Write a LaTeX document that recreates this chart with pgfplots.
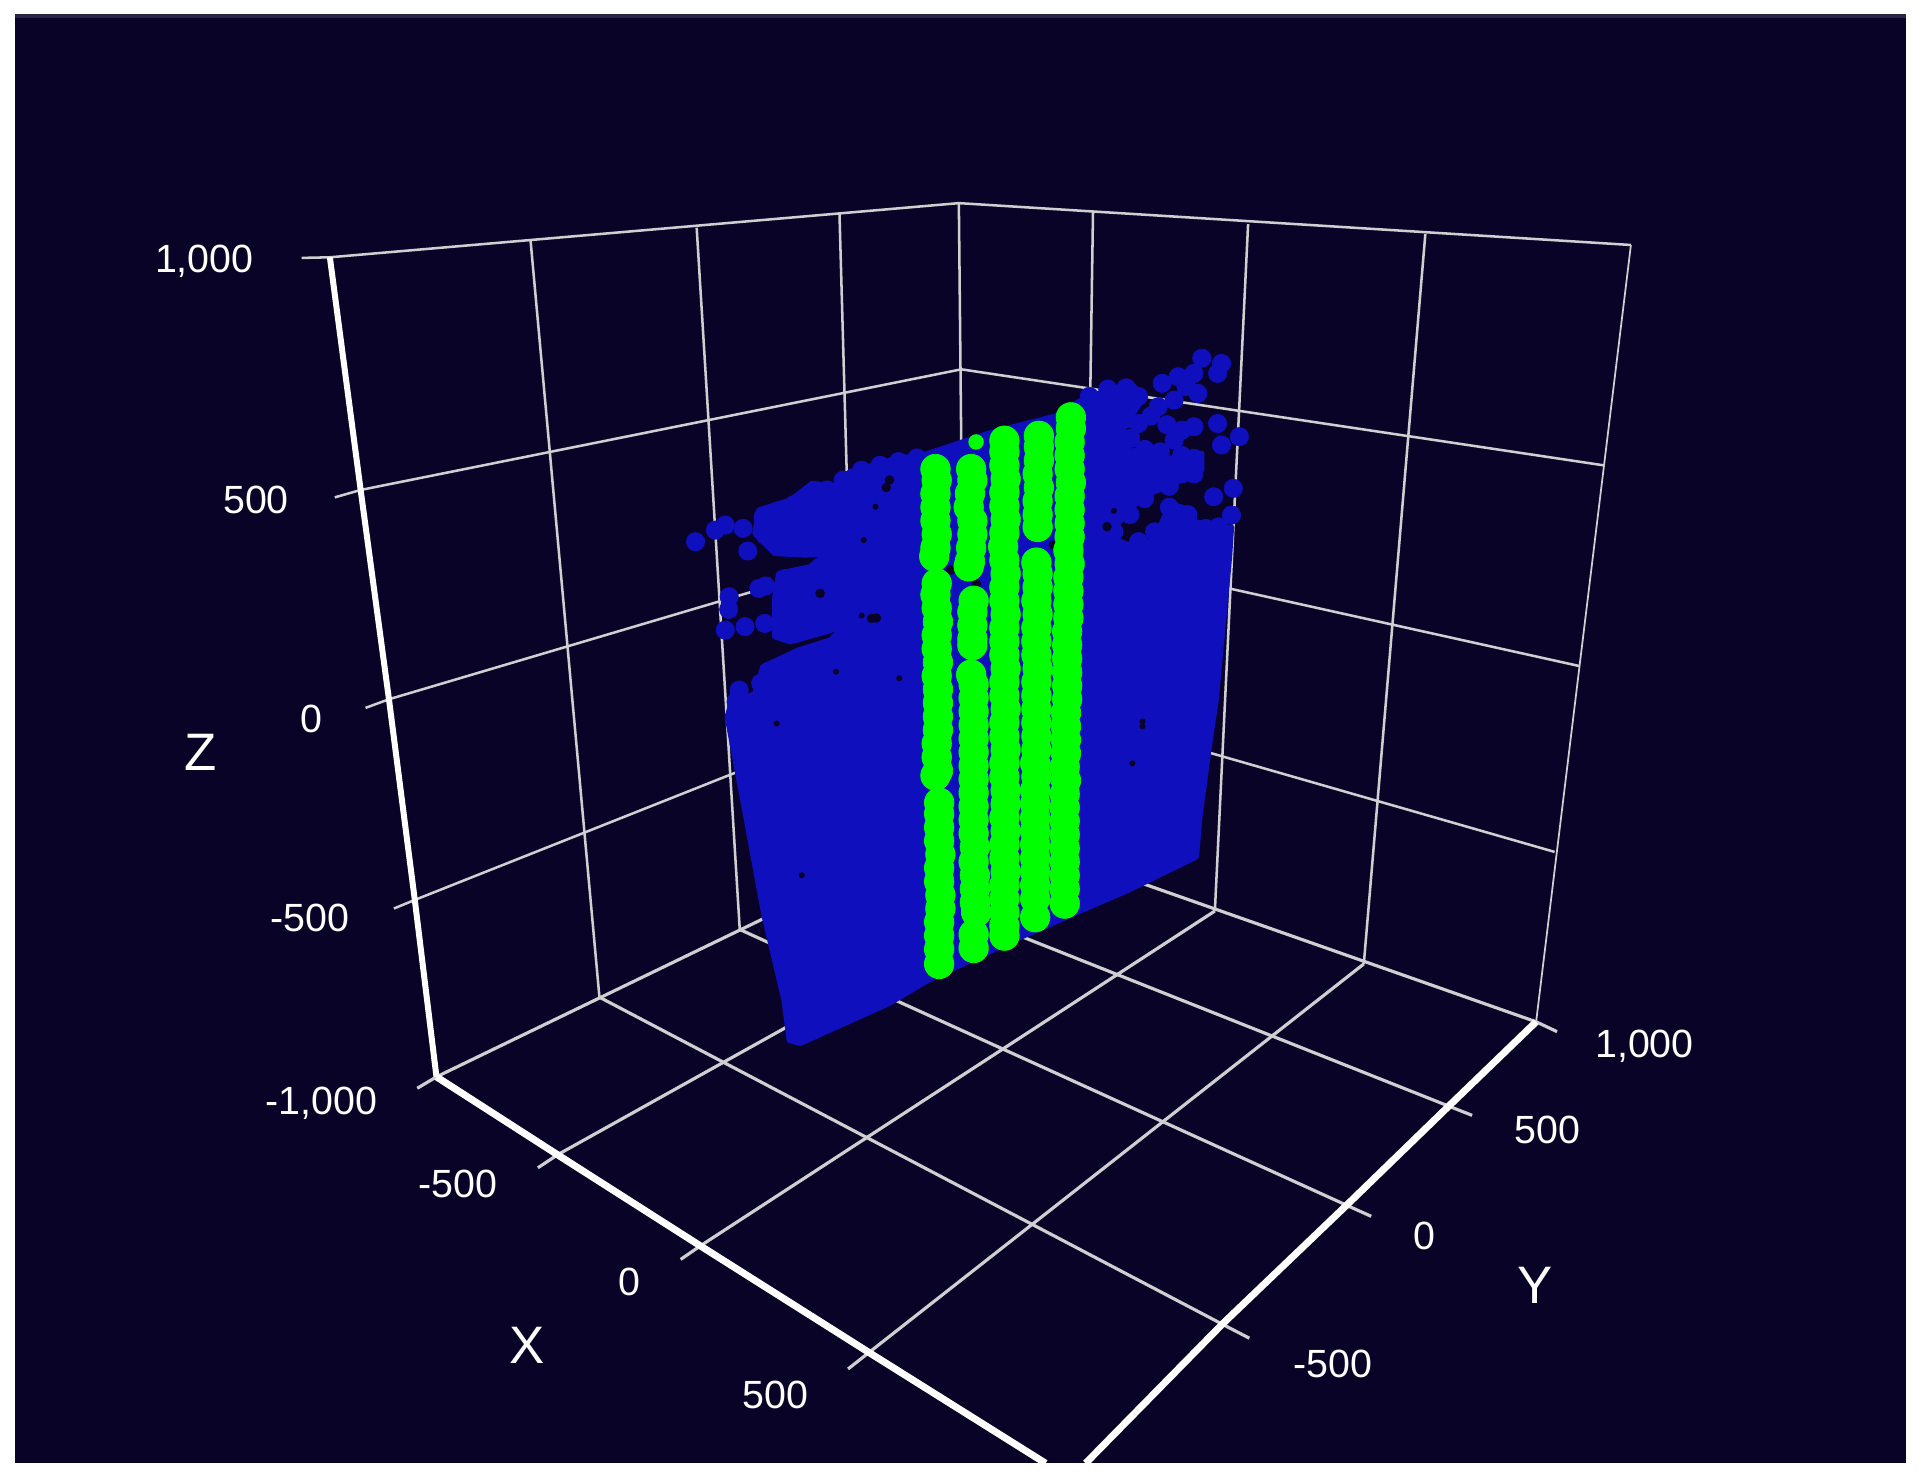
\documentclass[border=0pt]{standalone}
\usepackage{pgfplots}
\pgfplotsset{compat=1.18}
\usepackage{fontspec}
\setmainfont{Liberation Sans}
\definecolor{bg}{HTML}{090427}
\definecolor{bgtop}{HTML}{2A2548}
\definecolor{blu}{HTML}{0F0FBE}
\definecolor{grn}{HTML}{00FF00}
\definecolor{gridc}{HTML}{CFCFD2}
\tikzset{
  gl/.style={gridc, line width=0.72pt},
  gf/.style={gridc, line width=0.9pt},
  ax/.style={white, line width=2pt},
  tl/.style={text=white, font=\fontsize{11.2}{13}\selectfont, anchor=center, inner sep=0pt},
  al/.style={text=white, font=\fontsize{15}{17}\selectfont, anchor=center, inner sep=0pt},
}
\pgfplotsset{
  gcol/.style={only marks, color=grn, mark=*, mark size=4.2pt, mark options={fill=grn, draw=grn, line width=0.2pt}},
  bcol/.style={only marks, color=blu, mark=*, mark size=2.6pt, mark options={fill=blu, draw=blu, line width=0.2pt}},
}
\begin{document}
\begin{tikzpicture}
% The reference is a perspective 3D view, which pgfplots cannot project;
% all coordinates below are the positions (1568x1203 frame).
\begin{axis}[
  scale only axis, width=19.3cm, height=14.81cm,
  xmin=0, xmax=1568, ymin=0, ymax=1203, y dir=reverse,
  hide axis, clip=true, no markers,
]
% page and panel
\addplot[fill=white, draw=none] coordinates {(0,0)(1568,0)(1568,1203)(0,1203)} --cycle;
\addplot[fill=bg, draw=none] coordinates {(12.2,11.4)(1548.5,11.4)(1548.5,1188.6)(12.2,1188.6)} --cycle;
\addplot[fill=bgtop, draw=none] coordinates {(12.2,11.4)(1548.5,11.4)(1548.5,14.6)(12.2,14.6)} --cycle;
% left wall verticals
\addplot[gl] coordinates {(431,195)(487,810)};
\addplot[gl] coordinates {(566,185)(601,755)};
\addplot[gl] coordinates {(682,173)(697,708)};
\addplot[gl] coordinates {(779,165)(784,667)};
% right wall verticals
\addplot[gl] coordinates {(888,172)(880,700)};
\addplot[gl] coordinates {(1014,182)(987,740)};
\addplot[gl] coordinates {(1158,190)(1108,783)};
\addplot[gridc, line width=0.5pt] coordinates {(1325,199)(1248,830)};
% horizontals
\addplot[gl] coordinates {(245,209.5)(268,209)(779,165)(1325,199)};
\addplot[gl] coordinates {(272,404)(293,398)(781,300)(1303,378)};
\addplot[gl] coordinates {(297,575)(316,568)(782,430)(1283,541)};
\addplot[gl] coordinates {(320,738)(337,731)(783,554)(1263,692)};
% floor
\addplot[gf] coordinates {(339,884)(354.6,874.7)(784,667)(1248,830)(1265,838)};
\addplot[gf] coordinates {(1015,1087)(993,1075.6)(487,810)};
\addplot[gf] coordinates {(1114,988)(1094,979)(601,755)};
\addplot[gf] coordinates {(1196,906)(1177,898.5)(697,708)};
\addplot[gf] coordinates {(437,948.6)(453,938)(880,700)};
\addplot[gf] coordinates {(553,1023)(569,1012)(987,740)};
\addplot[gf] coordinates {(689,1112)(706,1098.6)(1108,783)};
% axis edges
\addplot[white, line width=1.7pt] coordinates {(268,209)(293,398)(316,568)(337,731)(354.6,874.7)};
\addplot[ax] coordinates {(354.6,874.7)(453,938)(569,1012)(706,1098.6)(849.5,1188.6)};
\addplot[ax] coordinates {(882,1188.6)(993,1075.6)(1094,979)(1177,898.5)(1248,830)};
% blue body
\addplot[fill=blu, draw=blu, line width=1.5pt, line join=round] coordinates {
(749.9,369.6)(729,372.3)(709.7,377.8)(690.4,383.2)(677.6,395.3)(659.9,392.6)(642.2,406.2)(616.5,414.3)
(613.3,433.3)(629.4,449.5)(655.1,450.9)(671.1,449.5)(658.3,460.3)(632.6,465.8)(629.4,487.4)(629.4,517.2)
(642.2,521.3)(671.1,513.2)(687.2,507.7)(674.4,520)(648.7,528)(619.7,541.6)(613.3,563.3)(594,571.4)
(590.8,582.2)(603.5,650)(621,744.7)(637,812.4)(641.2,845)(650,847.6)
(722.4,815)(754.4,796)(829.8,761)(873,742)(916.8,723)(972,696)
(974.8,663.5)(982,609.3)(988,568.7)(998.9,452.2)(1000.5,427.8)
(992.4,430.6)(974.8,433.3)(966.8,414.3)(950.7,408.9)(937.8,438.7)(921.8,444.1)(899.3,436)
(915.3,417)(928.2,403.5)(947.5,395.4)(976.4,381.8)(976.4,368.3)(957.1,371)(937.8,376.4)(934.6,362.9)
(913.7,368.3)(908.9,354.7)(918.6,338.5)(929.8,322.2)(918.6,311.4)(899.3,317)(878.4,325)
(857.5,338)(830,345)(803,352)(767,364)} --cycle;
% blue scattered points
\addplot[bcol] coordinates {
(565.1,440)(581.2,430.6)(589.2,426.5)(603.7,429.2)(607.5,447.6)(616.5,478)(622,476)(592.4,484.7)(592,495)
(589.2,511.8)(605.3,509)(621.3,506.4)(600.5,560.5)(598,570)
(976.4,291)(992.4,295.2)(989.2,303.3)(944.2,311.4)(957.1,306)(970,303.3)(973.2,319.5)(941,330.4)(953.9,325)(963.5,314)
(925,344)(918.6,356)(989.2,344)(1006.9,354.7)(992.4,361.5)(970,372.3)(942.6,367)(986,403.5)(1002,396.7)(1000.5,418.4)
(979.6,429.2)(957.1,417)(960.3,349.3)(970,346.6)(953.9,357.4)(935,338)(948,345)(925,375)(960,385)
(620,420)(632,415)(645,410)(660,400)(672,398)(685,390)(700,382)(715,378)(730,375)(745,372)(622,435)(630,441)
(638,470)(635,485)(635,500)(625,545)(618,555)(606,575)(600,585)
(885,322)(900,316)(915,315)(925,322)(915,340)(908,355)(915,370)(930,365)(945,375)(960,370)(970,385)(950,395)(930,405)(918,418)(905,432)(925,440)(938,432)(950,412)(965,418)(975,430)(990,428)
(652,838)(648,826)(645,814)(992,450)(990,480)(987,510)(984,540)(981,570)};
% gaps in the cloud
\addplot[only marks, color=bg, mark=*, mark size=1.3pt, mark options={fill=bg, draw=bg, line width=0.1pt}] coordinates {
(666.3,482)(708.1,502.3)(712,502)(722.6,390)(720,396)(899.3,427.8)(772.4,463)(793.2,474)(855.9,442.7)};
\addplot[only marks, color=bg, mark=*, mark size=0.8pt, mark options={fill=bg, draw=bg, line width=0.1pt}] coordinates {
(711.3,411.6)(701.7,438.7)(679.2,545.6)(730.6,551)(928.2,590)(928.2,586)(631,587.7)(651.4,711)(920,620)(700,500)(905,415)};
% green
\addplot[gcol] coordinates {
(760,381)(761,390)(760,401)(760,412)(760,423)(761,434)(760,445)(759,452)(761,474)(760,483)(761,494)(762,505)(761,516)(761,527)(762,538)(761,549)(762,560)(762,571)(762,582)(762,593)(761,604)(761,615)(762,626)(760,630)(763,652)(763,661)(763,672)(763,683)(764,694)(763,705)(763,716)(764,727)(764,738)(763,749)(763,760)(763,771)(763,783)};
\addplot[gcol] coordinates {
(789,381)(790,390)(788,401)(787,412)(790,423)(790,434)(789,445)(788,456)(787,460)(791,488)(790,497)(790,508)(790,519)(790,524)(789,548)(791,556)(791,567)(791,578)(791,589)(791,600)(791,611)(791,622)(791,633)(791,644)(791,655)(791,666)(791,677)(792,688)(791,700)(792,711)(792,722)(792,733)(793,741)(791,759)(791,770)};
\addplot[gcol] coordinates {
(816,358)(816,367)(816,378)(817,389)(816,400)(816,411)(817,422)(816,433)(815,444)(816,455)(817,466)(816,477)(816,488)(817,499)(816,510)(816,521)(816,532)(817,543)(816,554)(816,565)(817,576)(816,587)(816,598)(817,609)(816,620)(816,631)(817,642)(817,653)(816,664)(817,675)(816,686)(816,697)(817,708)(816,719)(816,730)(816,741)(816,752)(816,760)};
\addplot[gcol] coordinates {
(844,354)(844,363)(844,374)(843,385)(844,396)(843,407)(843,418)(843,428)(842,457)(843,466)(843,477)(842,488)(843,499)(842,510)(842,521)(842,532)(843,543)(842,554)(842,565)(842,576)(842,587)(842,598)(842,609)(841,620)(842,631)(841,642)(841,653)(841,664)(841,675)(841,686)(841,697)(841,708)(841,719)(841,730)(841,745)};
\addplot[gcol] coordinates {
(870,339)(870,348)(869,359)(869,370)(869,381)(870,392)(869,403)(869,414)(869,425)(869,436)(868,447)(869,458)(868,469)(868,480)(868,491)(868,502)(867,513)(867,524)(867,535)(867,546)(867,557)(867,568)(866,579)(866,590)(866,601)(866,612)(865,623)(866,634)(865,645)(865,656)(865,667)(865,678)(865,689)(865,700)(865,711)(865,722)(865,734)};
\addplot[only marks, color=grn, mark=*, mark size=2pt, mark options={fill=grn, draw=grn}] coordinates {(793,359)};
% text
\node[tl] at (axis cs:166,212.5) {1,000};
\node[tl] at (axis cs:208,406) {500};
\node[tl] at (axis cs:253,584) {0};
\node[tl] at (axis cs:252,746) {-500};
\node[tl] at (axis cs:261,896.5) {-1,000};
\node[al] at (axis cs:163,611) {Z};
\node[tl] at (axis cs:372,962) {-500};
\node[tl] at (axis cs:511,1041) {0};
\node[tl] at (axis cs:630,1133) {500};
\node[al] at (axis cs:428,1093) {X};
\node[tl] at (axis cs:1336,849.5) {1,000};
\node[tl] at (axis cs:1257,918) {500};
\node[tl] at (axis cs:1157,1004) {0};
\node[tl] at (axis cs:1083,1108) {-500};
\node[al] at (axis cs:1247,1044) {Y};
\end{axis}
\end{tikzpicture}
\end{document}
